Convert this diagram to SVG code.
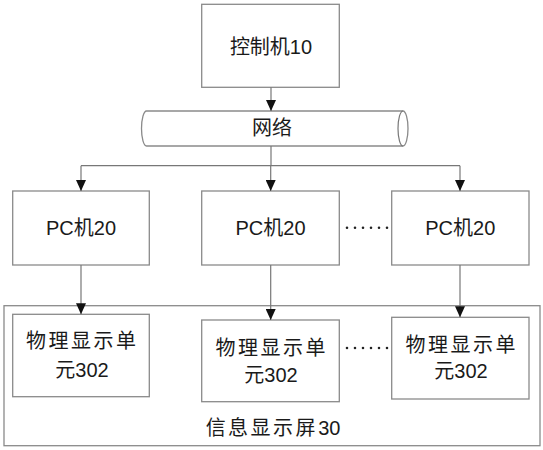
<svg xmlns="http://www.w3.org/2000/svg" width="543" height="450" viewBox="0 0 543 450">
<defs>
<style>
.box{fill:#fff;stroke:#8a8a8a;stroke-width:1.3}
.ln{fill:none;stroke:#777;stroke-width:1.2}
.dots{fill:none;stroke:#222;stroke-width:2.6;stroke-linecap:round;stroke-dasharray:0 8}
text{font-family:"Liberation Sans","Noto Sans CJK SC",sans-serif;font-size:20px;fill:#1a1a1a;text-anchor:middle}
.cn{letter-spacing:2.5px}
</style>
<marker id="ah" viewBox="0 0 11 10" refX="11" refY="5" markerWidth="11" markerHeight="10" markerUnits="userSpaceOnUse" orient="auto">
<path d="M0,0 L11,5 L0,10 Z" fill="#111"/>
</marker>
</defs>
<rect fill="#fff" width="543" height="450"/>

<g id="screen30">
<rect class="box" x="4" y="305.7" width="536" height="140"/>
<text x="273" y="435"><tspan class="cn">信息显示屏</tspan>30</text>
</g>

<g id="controller10">
<rect class="box" x="201.7" y="4.3" width="137.6" height="83"/>
<text x="271" y="54">控制机10</text>
</g>

<g id="network">
<path class="box" d="M146.5,111 L403,111 A5,17.5 0 0 1 403,146 L146.5,146 A5,17.5 0 0 1 146.5,111 Z"/>
<path class="ln" d="M403,111 A5,17.5 0 0 0 403,146"/>
<text x="272" y="135">网络</text>
</g>

<g id="pc1">
<rect class="box" x="12.7" y="191" width="136.6" height="74"/>
<text x="81" y="235">PC机20</text>
</g>
<g id="pc2">
<rect class="box" x="201.7" y="191" width="137.6" height="74"/>
<text x="270.5" y="235">PC机20</text>
</g>
<g id="pc3">
<rect class="box" x="391.7" y="191" width="137.3" height="74"/>
<text x="460.3" y="235">PC机20</text>
</g>

<g id="unit1">
<rect class="box" x="12.7" y="314.3" width="136.6" height="82.4"/>
<text class="cn" x="82.2" y="348">物理显示单</text>
<text x="82" y="377">元302</text>
</g>
<g id="unit2">
<rect class="box" x="201.7" y="320" width="137.6" height="81.7"/>
<text class="cn" x="271.7" y="355">物理显示单</text>
<text x="271" y="382">元302</text>
</g>
<g id="unit3">
<rect class="box" x="391.7" y="317.3" width="137.3" height="81.7"/>
<text class="cn" x="461.7" y="352">物理显示单</text>
<text x="461" y="378">元302</text>
</g>

<g id="connectors">
<path class="ln" d="M271,87.3 V111" marker-end="url(#ah)"/>
<path class="ln" d="M271,146 V165.7"/>
<path class="ln" d="M81,165.7 H460"/>
<path class="ln" d="M81,165.7 V191" marker-end="url(#ah)"/>
<path class="ln" d="M270.7,165.7 V191" marker-end="url(#ah)"/>
<path class="ln" d="M460,165.7 V191" marker-end="url(#ah)"/>
<path class="ln" d="M81,265 V314.3" marker-end="url(#ah)"/>
<path class="ln" d="M270.7,265 V320" marker-end="url(#ah)"/>
<path class="ln" d="M460,265 V317.3" marker-end="url(#ah)"/>
<path class="dots" d="M347,227.7 H388"/>
<path class="dots" d="M347,348 H388"/>
</g>
</svg>
